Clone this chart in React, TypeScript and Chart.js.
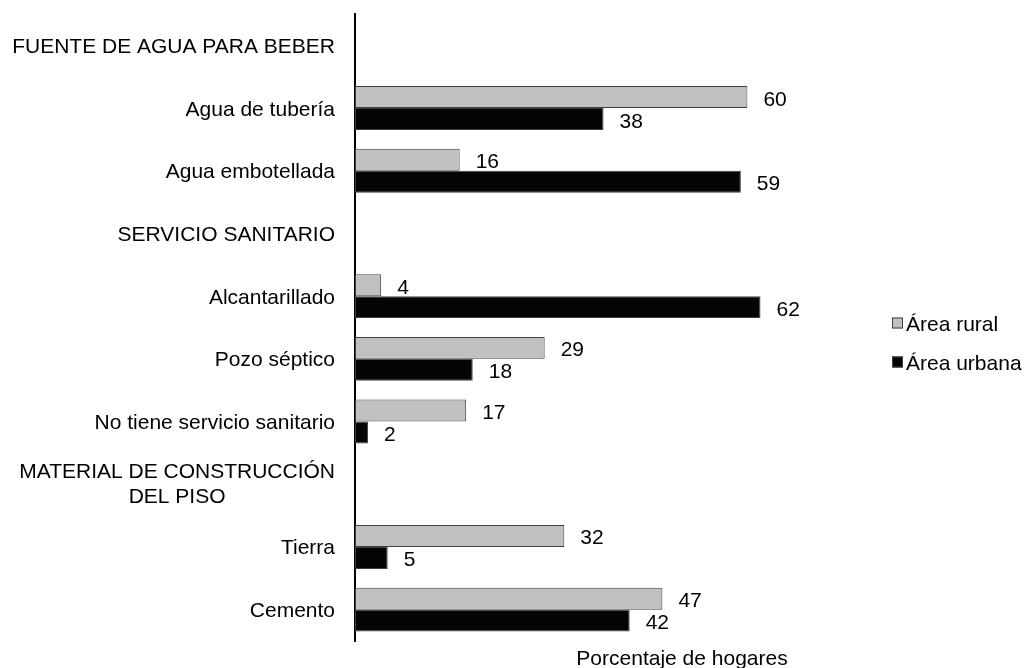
import React, { useEffect, useRef } from "react";
import { Chart, registerables } from "chart.js";

Chart.register(...registerables);

const categories: (string | string[])[] = [
  "FUENTE DE AGUA PARA BEBER",
  "Agua de tubería",
  "Agua embotellada",
  "SERVICIO SANITARIO",
  "Alcantarillado",
  "Pozo séptico",
  "No tiene servicio sanitario",
  ["MATERIAL DE CONSTRUCCIÓN", "DEL PISO"],
  "Tierra",
  "Cemento",
];

const ruralValues: (number | null)[] = [null, 60, 16, null, 4, 29, 17, null, 32, 47];
const urbanValues: (number | null)[] = [null, 38, 59, null, 62, 18, 2, null, 5, 42];

const seriesNames = ["Área rural", "Área urbana"];
const xTitle = "Porcentaje de hogares";

const FONT = '"Liberation Sans", Arial, sans-serif';
const FS = 21;

const customDraw = {
  id: "customDraw",
  afterDatasetsDraw(chart: any) {
    const ctx = chart.ctx;
    ctx.save();
    ctx.font = `${FS}px ${FONT}`;
    ctx.fillStyle = "#000";
    ctx.textAlign = "left";
    ctx.textBaseline = "alphabetic";
    chart.data.datasets.forEach((ds: any, i: number) => {
      const meta = chart.getDatasetMeta(i);
      meta.data.forEach((bar: any, j: number) => {
        const v = ds.data[j];
        if (v === null || v === undefined) return;
        ctx.fillText(String(v), bar.x + 16, bar.y + 8.5);
      });
    });
    ctx.restore();
  },
  afterDraw(chart: any) {
    const ctx = chart.ctx;
    const yScale = chart.scales.y;
    const area = chart.chartArea;
    ctx.save();
    ctx.font = `${FS}px ${FONT}`;
    ctx.fillStyle = "#000";
    ctx.textBaseline = "alphabetic";
    // y category labels
    const rightX = area.left - 20;
    categories.forEach((lab, i) => {
      const c = yScale.getPixelForTick(i);
      if (Array.isArray(lab)) {
        const widths = lab.map((l) => ctx.measureText(l).width);
        const maxW = Math.max(...widths);
        const cx = rightX - maxW / 2;
        ctx.textAlign = "center";
        const lh = 25;
        const n = lab.length;
        lab.forEach((l, k) => {
          const yy = c + (k - (n - 1) / 2) * lh + 7.5 - 1;
          ctx.fillText(l, cx, yy);
        });
      } else {
        ctx.textAlign = "right";
        ctx.fillText(lab, rightX, c + 7.5);
      }
    });
    // legend
    const legendY = [323, 362];
    chart.data.datasets.forEach((ds: any, i: number) => {
      const y = legendY[i];
      ctx.fillStyle = ds.backgroundColor;
      ctx.fillRect(892, y - 5.5, 11, 11);
      ctx.strokeStyle = "#404040";
      ctx.lineWidth = 1;
      ctx.strokeRect(892.5, y - 5, 10, 10);
      ctx.fillStyle = "#000";
      ctx.textAlign = "left";
      ctx.fillText(seriesNames[i], 906, y + 7.5);
    });
    // x title
    ctx.textAlign = "center";
    ctx.fillText(xTitle, (area.left + area.right) / 2, 665);
    ctx.restore();
  },
};

export default function App() {
  const ref = useRef<HTMLCanvasElement>(null);
  useEffect(() => {
    document.body.style.margin = "0";
    const canvas = ref.current;
    if (!canvas) return;
    const chart = new Chart(canvas, {
      type: "bar",
      data: {
        labels: categories as any,
        datasets: [
          {
            label: seriesNames[0],
            data: ruralValues,
            backgroundColor: "#c0c0c0",
            borderColor: "#404040",
            borderWidth: 1,
            borderSkipped: false,
          },
          {
            label: seriesNames[1],
            data: urbanValues,
            backgroundColor: "#050505",
            borderColor: "#404040",
            borderWidth: 1,
            borderSkipped: false,
          },
        ],
      },
      options: {
        indexAxis: "y",
        responsive: false,
        animation: false,
        devicePixelRatio: 1,
        layout: { padding: { top: 14, bottom: 27, right: 15, left: 0 } },
        datasets: {
          bar: { categoryPercentage: 0.7, barPercentage: 1.0 },
        },
        scales: {
          x: {
            display: false,
            min: 0,
            max: 100,
          },
          y: {
            display: true,
            grid: { display: false, drawTicks: false },
            border: { display: true, color: "#000", width: 2 },
            ticks: { display: false },
            afterFit(scale: any) {
              scale.width = 355;
            },
          },
        },
        plugins: {
          legend: { display: false },
          tooltip: { enabled: false },
          title: { display: false },
        },
      },
      plugins: [customDraw],
    } as any);
    return () => chart.destroy();
  }, []);
  return (
    <div style={{ width: 1024, height: 668 }}>
      <canvas ref={ref} width={1024} height={668} style={{ display: "block" }} />
    </div>
  );
}
